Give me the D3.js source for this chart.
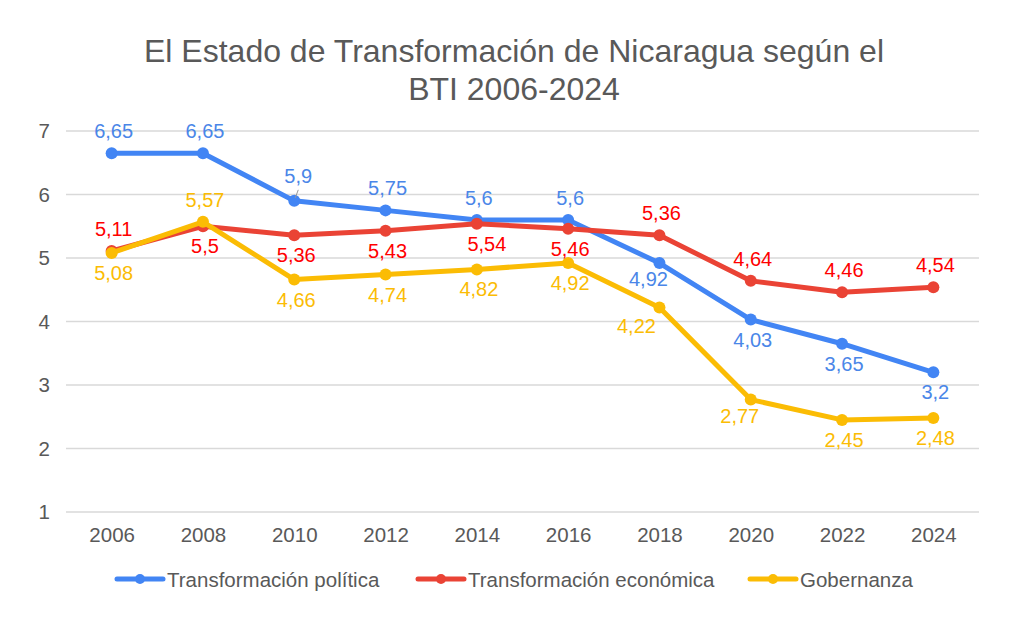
<!DOCTYPE html>
<html>
<head>
<meta charset="utf-8">
<script src="https://cdn.jsdelivr.net/npm/d3@7"></script>
<style>
  html, body { margin: 0; padding: 0; background: #fff; }
  svg { display: block; font-family: "Liberation Sans", Arial, sans-serif; }
</style>
</head>
<body>
<svg id="chart" width="1030" height="626"></svg>
<script>
// ---- data ----
const years = ["2006","2008","2010","2012","2014","2016","2018","2020","2022","2024"];
const politica  = [6.65, 6.65, 5.9, 5.75, 5.6, 5.6, 4.92, 4.03, 3.65, 3.2];
const economica = [5.11, 5.5, 5.36, 5.43, 5.54, 5.46, 5.36, 4.64, 4.46, 4.54];
const gobernanza = [5.08, 5.57, 4.66, 4.74, 4.82, 4.92, 4.22, 2.77, 2.45, 2.48];
const yTicks = [1, 2, 3, 4, 5, 6, 7];
const seriesNames = ["Transformación política", "Transformación económica", "Gobernanza"];
const titleLines = ["El Estado de Transformación de Nicaragua según el", "BTI 2006-2024"];

// label placement codes (a = above, b = below, bl = below-left, etc.)
const placePolitica  = ["a","a","al","a","a","a","bl","b","b","b"];
const placeEconomica = ["a","b","b","b","br","b","a","a","a","a"];
const placeGobernanza = ["b","a","b","b","b","b","bll","bl","b","b"];

const colors = ["#4285F4", "#EA4335", "#FBBC04"];
const labelColors = ["#4a86e8", "#ff0000", "#fbbc04"];

const series = [
  { name: seriesNames[0], values: politica, place: placePolitica },
  { name: seriesNames[1], values: economica, place: placeEconomica },
  { name: seriesNames[2], values: gobernanza, place: placeGobernanza }
];

const svg = d3.select("#chart");

const x = d3.scalePoint().domain(years).range([66, 979]).padding(0.5);
const y = d3.scaleLinear().domain([1, 7]).range([512, 131]);

// title
svg.append("g").selectAll("text").data(titleLines).join("text")
  .attr("x", 514).attr("y", (d, i) => 62 + i * 38)
  .attr("text-anchor", "middle")
  .attr("font-size", 32).attr("fill", "#595959")
  .text(d => d);

// gridlines
svg.append("g").selectAll("line").data(yTicks).join("line")
  .attr("x1", 66).attr("x2", 979)
  .attr("y1", d => y(d)).attr("y2", d => y(d))
  .attr("stroke", "#d9d9d9").attr("stroke-width", 1.5);

// y axis
const yAxis = d3.axisLeft(y).tickValues(yTicks).tickSize(0).tickPadding(0).tickFormat(d3.format("d"));
const gy = svg.append("g").attr("transform", "translate(50,0)").call(yAxis);
gy.select(".domain").remove();
gy.selectAll("text").attr("font-size", 20.5).attr("fill", "#595959")
  .attr("font-family", "'Liberation Sans', Arial, sans-serif");

// x axis
const xAxis = d3.axisBottom(x).tickSize(0).tickPadding(0);
const gx = svg.append("g").attr("transform", "translate(0,527)").call(xAxis);
gx.select(".domain").remove();
gx.selectAll("text").attr("font-size", 20.5).attr("fill", "#595959")
  .attr("font-family", "'Liberation Sans', Arial, sans-serif");

// lines
const line = d3.line().x((d, i) => x(years[i])).y(d => y(d));
series.forEach((s, si) => {
  svg.append("path").datum(s.values)
    .attr("d", line).attr("fill", "none")
    .attr("stroke", colors[si]).attr("stroke-width", 5)
    .attr("stroke-linejoin", "round").attr("stroke-linecap", "round");
  svg.append("g").selectAll("circle").data(s.values).join("circle")
    .attr("cx", (d, i) => x(years[i])).attr("cy", d => y(d))
    .attr("r", 6).attr("fill", colors[si]);
});

// labels
const offsets = {
  a: [2, -22], al: [4, -25], b: [2, 20], bl: [-11, 16], bll: [-23, 18], br: [10, 20]
};
const fmt = v => String(v).replace(".", ",");
series.forEach((s, si) => {
  const g = svg.append("g");
  s.values.forEach((v, i) => {
    const o = offsets[s.place[i]];
    const px = x(years[i]), py = y(v);
    if (s.place[i] === "al") {
      g.append("line").attr("x1", px + 1).attr("y1", py - 3)
        .attr("x2", px + 4).attr("y2", py - 11)
        .attr("stroke", "#999").attr("stroke-width", 1);
    }
    g.append("text")
      .attr("x", px + o[0]).attr("y", py + o[1])
      .attr("text-anchor", "middle").attr("dominant-baseline", "central")
      .attr("font-size", 20).attr("fill", labelColors[si])
      .text(fmt(v));
  });
});

// legend
const legendX = [117, 418, 750];
const lg = svg.append("g");
series.forEach((s, si) => {
  const lx = legendX[si], ly = 579;
  lg.append("line").attr("x1", lx).attr("x2", lx + 46).attr("y1", ly).attr("y2", ly)
    .attr("stroke", colors[si]).attr("stroke-width", 5).attr("stroke-linecap", "round");
  lg.append("circle").attr("cx", lx + 23).attr("cy", ly).attr("r", 5).attr("fill", colors[si]);
  lg.append("text").attr("x", lx + 50).attr("y", ly)
    .attr("dominant-baseline", "central")
    .attr("font-size", 20.5).attr("fill", "#595959")
    .text(s.name);
});
</script>
</body>
</html>
